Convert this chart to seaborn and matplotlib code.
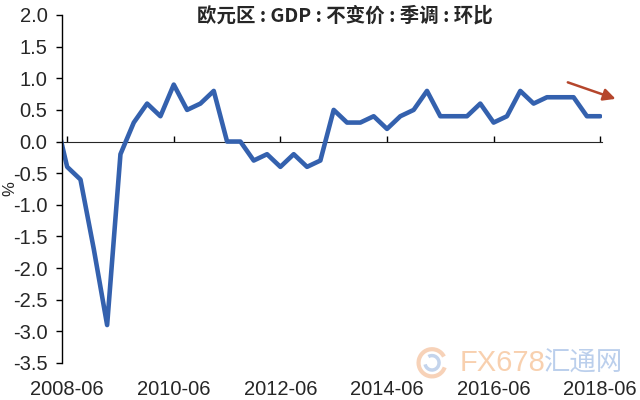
import numpy as np
import pandas as pd
import matplotlib
matplotlib.use('Agg')
import matplotlib.pyplot as plt
from matplotlib.patches import Arc
import seaborn as sns

# Eurozone GDP, constant prices, s.a., q/q %
quarters = ['2008-03', '2008-06', '2008-09', '2008-12',
            '2009-03', '2009-06', '2009-09', '2009-12',
            '2010-03', '2010-06', '2010-09', '2010-12',
            '2011-03', '2011-06', '2011-09', '2011-12',
            '2012-03', '2012-06', '2012-09', '2012-12',
            '2013-03', '2013-06', '2013-09', '2013-12',
            '2014-03', '2014-06', '2014-09', '2014-12',
            '2015-03', '2015-06', '2015-09', '2015-12',
            '2016-03', '2016-06', '2016-09', '2016-12',
            '2017-03', '2017-06', '2017-09', '2017-12',
            '2018-03', '2018-06']
gdp_qoq = [0.5, -0.4, -0.6, -1.7,
           -2.9, -0.2, 0.3, 0.6,
           0.4, 0.9, 0.5, 0.6,
           0.8, 0.0, 0.0, -0.3,
           -0.2, -0.4, -0.2, -0.4,
           -0.3, 0.5, 0.3, 0.3,
           0.4, 0.2, 0.4, 0.5,
           0.8, 0.4, 0.4, 0.4,
           0.6, 0.3, 0.4, 0.8,
           0.6, 0.7, 0.7, 0.7,
           0.4, 0.4]
tick_labels = ['2008-06', '2010-06', '2012-06', '2014-06', '2016-06', '2018-06']
y_ticks = [-3.5, -3.0, -2.5, -2.0, -1.5, -1.0, -0.5, 0.0, 0.5, 1.0, 1.5, 2.0]

df = pd.DataFrame({'quarter': quarters, 'gdp': gdp_qoq})
df['pos'] = np.arange(len(df))

sns.set_style('white')
plt.rcParams['font.family'] = ['Liberation Sans', 'Noto Sans CJK SC', 'DejaVu Sans']
plt.rcParams['axes.unicode_minus'] = False

fig = plt.figure(figsize=(6.4, 4), dpi=100)
ax = fig.add_axes([0.097, 0.0925, 0.844, 0.87])

sns.lineplot(data=df, x='pos', y='gdp', color='#3461AE', linewidth=3.3, ax=ax)

ax.set_xlim(0.62, 41.15)
ax.set_ylim(-3.5, 2.0)

tick_pos = [quarters.index(t) for t in tick_labels]
ax.set_xticks(tick_pos, tick_labels, fontsize=14.5)
ax.tick_params(axis='x', length=0, pad=12)
ax.set_yticks(y_ticks, [f'{v:.1f}' for v in y_ticks], fontsize=14.5)
ax.tick_params(axis='y', direction='out', length=4.5, width=1, color='black', pad=6, left=True)

for s in ['top', 'right', 'bottom']:
    ax.spines[s].set_visible(False)
ax.spines['left'].set_color('black')
ax.spines['left'].set_linewidth(1)

# zero line with its own tick marks
zero = ax.secondary_xaxis(3.5 / 5.5)
zero.set_xticks(tick_pos)
zero.set_xticklabels([])
zero.tick_params(direction='out', length=4, width=1, color='black')
zero.spines['bottom'].set_color('black')
zero.spines['bottom'].set_linewidth(1)

ax.set_xlabel('')
ax.set_ylabel('%', fontsize=12)
ax.yaxis.set_label_coords(-0.082, 0.5)

fig.text(0.539, 0.962, '欧元区 : GDP : 不变价 : 季调 : 环比', ha='center', va='center',
         fontsize=14, fontweight='bold', family=['Noto Sans CJK SC', 'DejaVu Sans'])

ax.annotate('', xy=(42.35, 0.66), xytext=(38.37, 0.95), annotation_clip=False,
            arrowprops=dict(arrowstyle='-|>', color='#B5462C', lw=1.8, mutation_scale=18))

# watermark
fig.add_artist(Arc((0.675, 0.093), 0.042, 0.068, theta1=40, theta2=330,
                   transform=fig.transFigure, color='#F2B48A', lw=3, alpha=0.6))
fig.add_artist(Arc((0.675, 0.093), 0.022, 0.036, theta1=200, theta2=470,
                   transform=fig.transFigure, color='#9DB8E0', lw=2.5, alpha=0.6))
fig.text(0.718, 0.093, 'FX678', fontsize=21, color='#F4B27A', alpha=0.6, ha='left', va='center')
fig.text(0.85, 0.093, '汇通网', fontsize=19, color='#8FB0E0', alpha=0.6, ha='left', va='center',
         family=['Noto Sans CJK SC', 'DejaVu Sans'])

fig.savefig('out.png', dpi=100)
